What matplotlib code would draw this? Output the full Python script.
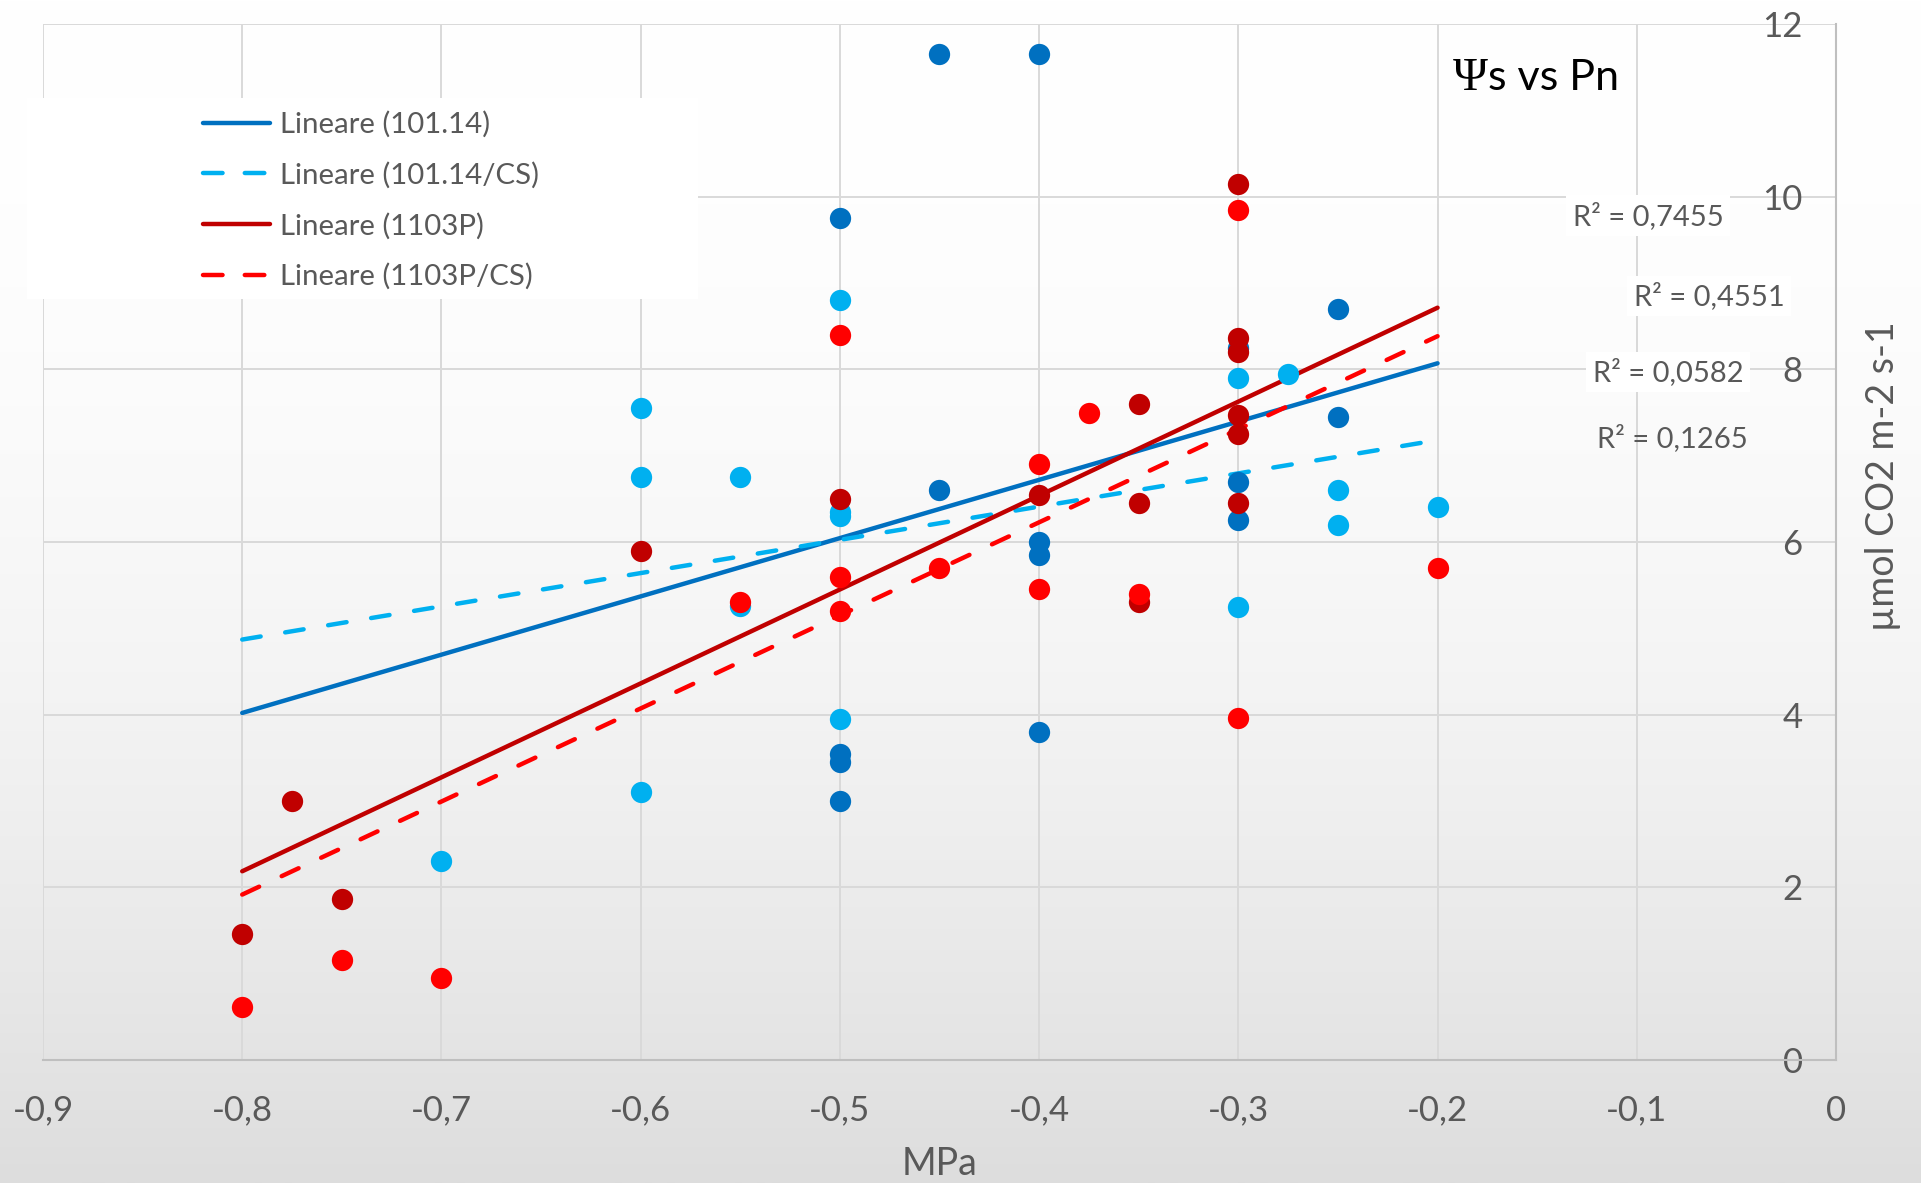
import numpy as np
import matplotlib
matplotlib.use("Agg")
import matplotlib.pyplot as plt
from matplotlib.patches import Rectangle
from matplotlib.lines import Line2D
from matplotlib.ticker import FuncFormatter, MultipleLocator

# Leaf osmotic potential (MPa) against net photosynthesis, per rootstock / treatment
x_101_14 = [-0.45, -0.40, -0.50, -0.25, -0.30, -0.25, -0.45, -0.30, -0.30, -0.40,
            -0.40, -0.40, -0.50, -0.50, -0.50]
y_101_14 = [11.65, 11.65, 9.75, 8.70, 8.25, 7.45, 6.60, 6.70, 6.25, 6.00,
            5.85, 3.80, 3.55, 3.45, 3.00]

x_101_14_cs = [-0.50, -0.30, -0.275, -0.60, -0.60, -0.55, -0.25, -0.20, -0.50, -0.50,
               -0.25, -0.55, -0.30, -0.50, -0.60, -0.70]
y_101_14_cs = [8.80, 7.90, 7.95, 7.55, 6.75, 6.75, 6.60, 6.40, 6.35, 6.30,
               6.20, 5.26, 5.25, 3.95, 3.10, 2.30]

x_1103p = [-0.30, -0.30, -0.30, -0.35, -0.30, -0.30, -0.40, -0.50, -0.35, -0.30,
           -0.60, -0.35, -0.775, -0.75, -0.80]
y_1103p = [10.15, 8.36, 8.20, 7.60, 7.47, 7.25, 6.55, 6.50, 6.45, 6.45,
           5.90, 5.30, 3.00, 1.86, 1.46]

x_1103p_cs = [-0.30, -0.50, -0.375, -0.40, -0.45, -0.20, -0.50, -0.40, -0.35, -0.55,
              -0.50, -0.30, -0.75, -0.70, -0.80]
y_1103p_cs = [9.85, 8.40, 7.50, 6.90, 5.70, 5.70, 5.60, 5.45, 5.40, 5.31,
              5.20, 3.96, 1.16, 0.95, 0.61]

series_names = ["101.14", "101.14/CS", "1103P", "1103P/CS"]
trend_slope = [6.75, 3.85, 10.88, 10.78]
trend_intercept = [9.42, 7.95, 10.89, 10.54]
trend_x = [-0.8, -0.2]
r2_labels = ["R² = 0,7455", "R² = 0,4551", "R² = 0,0582", "R² = 0,1265"]

colors = ["#0070C0", "#00B0F0", "#C00000", "#FF0000"]
dashed = [False, True, False, True]
FONT = "Lato"
GREY = "#595959"

W, H = 1921, 1183
fig = plt.figure(figsize=(W / 100, H / 100), dpi=100)

# vertical white-to-grey backdrop
bg = fig.add_axes([0, 0, 1, 1], zorder=-10)
t = np.linspace(0, 1, 400)
shade = 255 - 34 * t ** 2
grad = np.repeat((shade / 255.0)[:, None, None], 3, axis=2)
bg.imshow(grad, aspect="auto", extent=[0, 1, 0, 1], origin="upper")
bg.axis("off")

x0_px, x1_px, y0_px, y1_px = 43, 1836, 1060, 24
ax = fig.add_axes([x0_px / W, 1 - y0_px / H, (x1_px - x0_px) / W, (y0_px - y1_px) / H])
ax.set_facecolor("none")
ax.set_xlim(-0.9, 0)
ax.set_ylim(0, 12)
ax.xaxis.set_major_locator(MultipleLocator(0.1))
ax.yaxis.set_major_locator(MultipleLocator(2))
ax.xaxis.set_major_formatter(FuncFormatter(
    lambda v, _: "0" if abs(v) < 1e-9 else f"{v:.1f}".replace(".", ",")))
ax.yaxis.set_major_formatter(FuncFormatter(lambda v, _: f"{v:.0f}"))
ax.grid(True, color="#d9d9d9", lw=1.4)
ax.set_axisbelow(True)

for s in ("top", "right"):
    ax.spines[s].set_visible(False)
ax.spines["left"].set_position(("data", 0))
for s in ("left", "bottom"):
    ax.spines[s].set_color("#bfbfbf")
    ax.spines[s].set_linewidth(1.5)

ax.tick_params(axis="x", length=0, pad=25, labelsize=25, labelcolor=GREY)
ax.tick_params(axis="y", length=0, pad=24, labelsize=25, labelcolor=GREY)
for lbl in ax.get_xticklabels() + ax.get_yticklabels():
    lbl.set_fontfamily(FONT)

# trend lines
handles = []
xs = np.array(trend_x)
for name, m, b, c, d in zip(series_names, trend_slope, trend_intercept, colors, dashed):
    kw = dict(color=c, lw=3.2, solid_capstyle="round", dash_capstyle="round", zorder=2)
    if d:
        kw["dashes"] = (4.2, 5.6)
    ax.plot(xs, m * xs + b, **kw)
    hk = dict(kw)
    if d:
        hk["dashes"] = (4.4, 5.0)
    handles.append(Line2D([], [], label=f"Lineare ({name})", **hk))

# data points
for xv, yv, c in zip([x_101_14, x_101_14_cs, x_1103p, x_1103p_cs],
                     [y_101_14, y_101_14_cs, y_1103p, y_1103p_cs], colors):
    ax.scatter(xv, yv, s=235, color=c, linewidths=0, zorder=3)

# R² annotations
r2_pos = [(-0.0944, 9.78, True), (-0.0638, 8.85, True),
          (-0.0844, 7.97, True), (-0.0823, 7.20, False)]
for lab, (px, py, boxed) in zip(r2_labels, r2_pos):
    kw = dict(ha="center", va="center", fontsize=21, color=GREY, fontfamily=FONT, zorder=5)
    if boxed:
        kw["bbox"] = dict(boxstyle="square,pad=0.22", fc="white", ec="none")
    ax.text(px, py, lab, **kw)

ax.set_xlabel("MPa", fontsize=27, color=GREY, fontfamily=FONT)
ax.xaxis.set_label_coords(0.5, -(1164 - y0_px) / (y0_px - y1_px))
ax.xaxis.label.set_va("center")
ax.set_ylabel("µmol CO2 m-2 s-1", fontsize=27, color=GREY, fontfamily=FONT)
ax.yaxis.set_label_coords((1883 - x0_px) / (x1_px - x0_px), (y0_px - 476) / (y0_px - y1_px))
ax.yaxis.label.set_va("center")
ax.yaxis.label.set_ha("center")

# legend panel
fig.add_artist(Rectangle((27 / W, 1 - 299 / H), 671 / W, 201 / H,
                         transform=fig.transFigure, fc="white", ec="none", zorder=1.5))
leg = fig.legend(handles=handles, loc="upper left",
                 bbox_to_anchor=(203 / W, 1 - 111 / H), bbox_transform=fig.transFigure,
                 frameon=False, handlelength=2.28, handletextpad=0.33,
                 labelspacing=0.81, borderpad=0, borderaxespad=0,
                 prop={"family": FONT, "size": 21.2})
leg.set_zorder(2)
for txt in leg.get_texts():
    txt.set_color(GREY)

# title: serif psi followed by the rest
fig.canvas.draw()
renderer = fig.canvas.get_renderer()
base_y = 1 - 90 / H
t1 = fig.text(1453 / W, base_y, "Ψ", fontfamily="Liberation Serif", fontsize=34,
              color="black", va="baseline", ha="left")
bb = t1.get_window_extent(renderer)
fig.text(bb.x1 / W, base_y, "s vs Pn", fontfamily=FONT, fontsize=31,
         color="black", va="baseline", ha="left")

fig.savefig("out.png", dpi=100)
